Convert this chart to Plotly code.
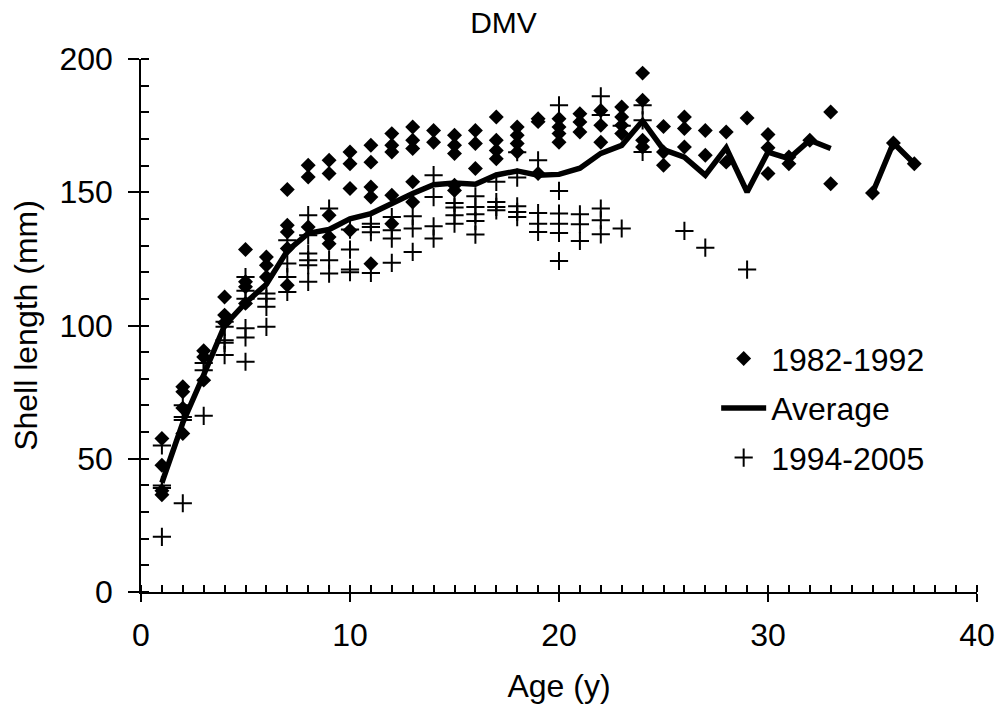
import plotly.graph_objects as go

ages = list(range(1, 38))

# 1982-1992 shell lengths (mm) per age 1..37
early_len = [
    [57.6, 47.6, 38, 36.5],
    [77, 75.1, 69, 59.5],
    [90.5, 88.2, 79.5],
    [110.7, 103.9, 101],
    [128.5, 116.4, 114.5, 108.3],
    [125.7, 122.6, 118.2],
    [151, 137.6, 135.1, 128.9, 115.1],
    [160.1, 155.7, 137],
    [162, 157, 141.4, 133.2, 130.7],
    [165.1, 160.7, 151.4, 135.7],
    [167.6, 161.3, 152, 148.2, 123.2],
    [172, 167.6, 165.1, 148.9, 138.2],
    [174.5, 169.5, 166.4, 153.9, 146.3],
    [173.2, 168.8],
    [171.4, 167.6, 164.5, 152.6, 150.7],
    [173.2, 168.3, 158.9],
    [178.2, 169.5, 165.7, 162.6],
    [174.5, 171.4, 168.3, 165.1],
    [177.6, 176.5, 157],
    [177.6, 174.5, 172, 168.8],
    [179.5, 176.4, 172.6],
    [180.7, 175.1, 168.8],
    [182, 178.2, 175.1, 172],
    [194.7, 184.5, 169.5, 167],
    [174.7, 165.1, 160.1],
    [178.2, 173.9, 167],
    [173.2, 163.9],
    [172.6, 161.3],
    [177.9],
    [171.7, 166.7, 157],
    [163.2, 160.7],
    [169.5],
    [180.1, 153.2],
    [],
    [149.7],
    [168.5],
    [160.7],
]

# 1994-2005 shell lengths (mm) per age 1..37
late_len = [
    [55, 40, 39, 20.7],
    [70.1, 65.7, 64.5, 33.3],
    [85.9, 83.2, 66.1],
    [101.4, 99.5, 94.5, 93.5, 88.9],
    [118.2, 113, 110, 99, 95.5, 86.4],
    [112, 110, 107, 99.5],
    [132, 123.3, 118.2, 112.6],
    [141.4, 133.9, 127, 124.5, 122.6, 116.4],
    [143.9, 124.5, 119.5],
    [136, 128.5, 121, 120],
    [138.2, 137, 135, 119.7],
    [140.7, 135.7, 132.6, 123.5],
    [141, 136.4, 127.6],
    [156.4, 148.2, 137.2, 132.6],
    [146, 144.3, 141.4, 138.2],
    [148.5, 144.5, 141.7, 139.2, 134.1],
    [153.9, 146.3, 144.5, 143.2],
    [165, 155.5, 144.7, 142.6, 140.7],
    [162, 142.2, 138.2, 135.1],
    [182.6, 150.5, 142, 138.2, 134.7, 124.2],
    [141.7, 138, 131.7],
    [186, 179, 143.9, 139.5, 134.2],
    [175, 136.4],
    [182.6, 177, 165.1],
    [],
    [135.5],
    [129.2],
    [],
    [121],
    [], [], [], [], [], [], [], [],
]

# Average per age 1..37 (no value at age 34)
avg_len = [41, 63.5, 81.5, 100, 108.5, 115.5, 128, 134.6, 136, 140,
           142, 145.8, 149.5, 152.8, 153.5, 153, 156.5, 158, 156.4, 156.7,
           159, 164.6, 167.6, 176.8, 166, 163.2, 156.4, 166.7, 150.1, 165.1,
           162.6, 169.5, 166.4, None, 149.7, 168.5, 160.7]

x_ticks = [0, 10, 20, 30, 40]
y_ticks = [0, 50, 100, 150, 200]


def flatten(groups):
    xs, ys = [], []
    for a, vals in zip(ages, groups):
        for v in vals:
            xs.append(a)
            ys.append(v)
    return xs, ys


ex, ey = flatten(early_len)
lx, ly = flatten(late_len)

FONT = "Liberation Sans, Arial, sans-serif"
FS = 32

fig = go.Figure()
fig.add_trace(go.Scatter(
    x=ex, y=ey, mode="markers", name="1982-1992", legendrank=1,
    legendgroup="a",
    marker=dict(symbol="diamond", size=11.5, color="black", line=dict(width=0)),
))
fig.add_trace(go.Scatter(
    x=lx, y=ly, mode="markers", name="1994-2005", legendrank=3,
    legendgroup="c",
    marker=dict(symbol="cross-thin", size=13, color="black",
                line=dict(width=2, color="black")),
))
fig.add_trace(go.Scatter(
    x=ages, y=avg_len, mode="lines", name="Average", legendrank=2,
    legendgroup="b", connectgaps=False,
    line=dict(color="black", width=5.5),
))

fig.update_layout(
    width=1007, height=717,
    margin=dict(l=141, r=22, t=59, b=125),
    paper_bgcolor="white", plot_bgcolor="white",
    font=dict(family=FONT, size=FS, color="black"),
    title=dict(text="DMV", x=0.5, xref="container", xanchor="center",
               y=1 - 22 / 717, yref="container", yanchor="middle",
               font=dict(size=30)),
    showlegend=True,
    legend=dict(x=0.688, y=0.345, xanchor="left", yanchor="middle",
                bgcolor="rgba(0,0,0,0)", traceorder="grouped",
                tracegroupgap=5, itemwidth=45, font=dict(size=FS)),
)
fig.update_xaxes(
    range=[0, 40], tickvals=x_ticks, showgrid=False, zeroline=False,
    showline=True, linecolor="black", linewidth=1.5,
    ticks="outside", ticklen=8, tickwidth=1.5, tickcolor="black",
    ticklabelstandoff=6, tickfont=dict(size=FS),
    minor=dict(dtick=1, ticks="inside", ticklen=7, tickwidth=1.5,
               tickcolor="black", showgrid=False),
    title=dict(text="Age (y)", standoff=22, font=dict(size=FS)),
)
fig.update_yaxes(
    range=[0, 200], tickvals=y_ticks, showgrid=False, zeroline=False,
    showline=True, linecolor="black", linewidth=1.5,
    ticks="outside", ticklen=11, tickwidth=1.5, tickcolor="black",
    ticklabelstandoff=9, tickfont=dict(size=FS),
    minor=dict(dtick=10, ticks="inside", ticklen=8, tickwidth=1.5,
               tickcolor="black", showgrid=False),
    title=dict(text="Shell length (mm)", standoff=12, font=dict(size=FS)),
)

fig.write_html("out.html")
